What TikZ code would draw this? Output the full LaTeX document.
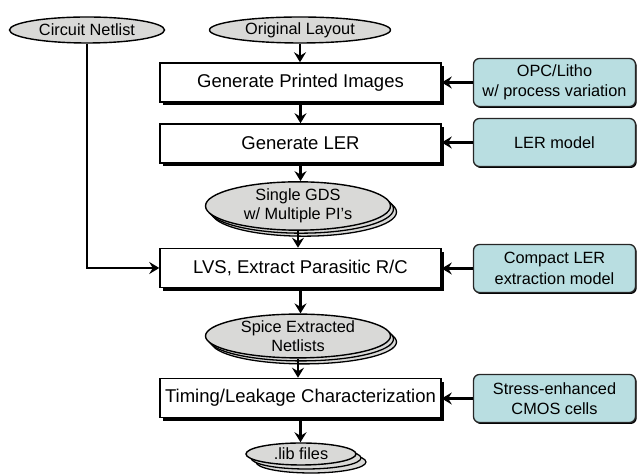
\documentclass[tikz,border=0pt]{standalone}
\usepackage{fontspec}
\setmainfont{Liberation Sans}
\usetikzlibrary{arrows.meta,shapes.geometric,shadows}
\definecolor{sidefill}{RGB}{185,222,225}
\definecolor{ellfill}{RGB}{217,217,215}
\begin{document}
\begin{tikzpicture}[x=1pt,y=1pt,
  proc/.style={draw=black, line width=1.5pt, fill=white, minimum width=281pt, minimum height=39pt,
    inner sep=0pt, font=\fontsize{18.5}{22}\selectfont,
    drop shadow={shadow xshift=2.5pt, shadow yshift=-3.5pt, fill=black, opacity=1}},
  side/.style={draw=black!85, line width=1.3pt, fill=sidefill, rounded corners=6pt,
    minimum width=162pt, minimum height=48pt, inner sep=0pt, align=center,
    font=\fontsize{16.3}{20.5}\selectfont,
    drop shadow={shadow xshift=1.2pt, shadow yshift=-1.5pt, fill=black, opacity=1}},
  ell/.style={ellipse, draw=black, line width=1.4pt, fill=ellfill, inner sep=0pt, align=center,
    font=\fontsize{16.3}{19}\selectfont},
  stackA/.style={ell,
    general shadow={shadow xshift=6pt, shadow yshift=-6pt, fill=ellfill, draw=black, line width=1.3pt},
    general shadow={shadow xshift=3pt, shadow yshift=-3pt, fill=ellfill, draw=black, line width=1.3pt}},
  stackB/.style={ell,
    general shadow={shadow xshift=10pt, shadow yshift=-8pt, fill=ellfill, draw=black, line width=1.3pt},
    general shadow={shadow xshift=5pt, shadow yshift=-4pt, fill=ellfill, draw=black, line width=1.3pt}},
  conn/.style={line width=2.8pt, -{Stealth[length=10pt,width=12pt,inset=3.5pt]}}
]
\useasboundingbox (0,0) rectangle (641,476);

\node[ell, minimum width=155pt, minimum height=26pt] (cn) at (87,446) {Circuit Netlist};
\node[ell, minimum width=181pt, minimum height=26pt] (ol) at (300,446) {Original Layout};

\node[proc] (gpi) at (300.5,393.5) {Generate Printed Images};
\node[proc] (gler) at (300.5,332.5) {Generate LER};
\node[stackA, minimum width=185pt, minimum height=37pt] (gds) at (298,270) {Single GDS\\w/ Multiple PI’s};
\node[proc] (lvs) at (300.5,208) {LVS, Extract Parasitic R/C};
\node[stackA, minimum width=185pt, minimum height=37pt] (spice) at (298,140) {Spice Extracted\\Netlists};
\node[proc] (tim) at (300.5,78) {Timing/Leakage Characterization};
\node[stackB, minimum width=110pt, minimum height=22pt] (lib) at (301,22) {.lib files};

\node[side] (opc) at (554.5,393.5) {OPC/Litho\\w/ process variation};
\node[side] (lerm) at (554.5,333.5) {LER model};
\node[side] (cler) at (554.5,207.5) {Compact LER\\extraction model};
\node[side] (stress) at (554.5,77.5) {Stress-enhanced\\CMOS cells};

\draw[conn] (ol.south) -- (ol.south |- gpi.north);
\draw[conn] (gpi.south) -- (gler.north);
\draw[conn] (gler.south) -- (gler.south |- gds.north);
\draw[conn] (gds.south) -- (gds.south |- lvs.north);
\draw[conn] (lvs.south) -- (lvs.south |- spice.north);
\draw[conn] (spice.south) -- (spice.south |- tim.north);
\draw[conn] (tim.south) -- (tim.south |- lib.north);

\draw[conn] (opc.west) -- (opc.west -| gpi.east);
\draw[conn] (lerm.west) -- (lerm.west -| gler.east);
\draw[conn] (cler.west) -- (cler.west -| lvs.east);
\draw[conn] (stress.west) -- (stress.west -| tim.east);

\draw[conn] (cn.south) |- (lvs.west);
\end{tikzpicture}
\end{document}
